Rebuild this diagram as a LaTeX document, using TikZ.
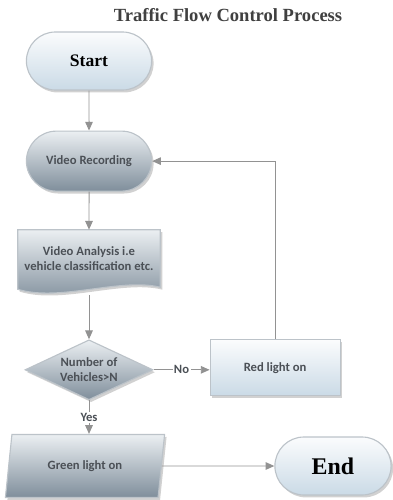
\documentclass[tikz,border=0pt]{standalone}
\usepackage{fontspec}
\setmainfont{Liberation Serif}
\newfontfamily\boxfont{Carlito}
\usetikzlibrary{arrows.meta,positioning,shapes.geometric,shapes.misc,shadows,backgrounds}

\definecolor{linegray}{HTML}{929292}
\definecolor{edgegray}{HTML}{BCC3C9}
\definecolor{textgray}{HTML}{4B5056}
\definecolor{lighttop}{HTML}{FBFCFD}
\definecolor{lightbot}{HTML}{CADAE6}
\definecolor{darktop}{HTML}{EBEFF2}
\definecolor{darkbot}{HTML}{7F8E9B}

\begin{document}
\begin{tikzpicture}[node distance=10mm and 14mm,
  base/.style={draw=edgegray, line width=0.8pt, align=center, inner sep=1pt,
    drop shadow={shadow xshift=0.5mm, shadow yshift=-0.6mm, fill=black!40, opacity=.45}},
  light/.style={base, top color=lighttop, bottom color=lightbot},
  dark/.style={base, top color=darktop, bottom color=darkbot},
  boxtext/.style={font=\boxfont\bfseries\fontsize{9}{10.5}\selectfont, text=textgray},
  terminal/.style={light, rounded rectangle, minimum width=32mm, minimum height=14.5mm},
  process/.style={dark, rounded rectangle, minimum width=32mm, minimum height=15mm, boxtext},
  decision/.style={dark, diamond, aspect=2.1, minimum width=32mm, minimum height=15mm, inner sep=0pt, boxtext},
  io/.style={dark, trapezium, trapezium left angle=76, trapezium right angle=104, trapezium stretches=true, minimum width=40mm, minimum height=15.75mm, boxtext},
  action/.style={light, rectangle, minimum width=32.5mm, minimum height=14mm, boxtext},
  arr/.style={-{Triangle[length=2.2mm, width=1.9mm]}, draw=linegray, line width=0.7pt},
  lbl/.style={fill=white, inner sep=1pt, boxtext}]
\useasboundingbox (0,0) rectangle (98mm,-125mm);
\node[font=\bfseries\fontsize{13.2}{15}\selectfont, text=black!75] (title) at (57mm,-3.75mm) {Traffic Flow Control Process};
\node[terminal, font=\bfseries\fontsize{12.5}{14}\selectfont] (start) at (22.25mm,-15.25mm) {Start};
\node[process, below=of start] (rec) {Video Recording};
\node[align=center, minimum width=35.5mm, minimum height=14.25mm, inner sep=1pt, boxtext, below=9.5mm of rec] (analysis) {Video Analysis i.e\\vehicle classification etc.};
\node[decision, below=13mm of analysis] (check) {Number of\\Vehicles>N};
\node[action, right=of check, yshift=0.5mm] (red) {Red light on};
\node[io] (green) at (21.25mm,-116.5mm) {Green light on};
\node[terminal, minimum width=29.75mm, font=\bfseries\fontsize{17}{19}\selectfont] (stop) at (83.25mm,-116.5mm) {End};
% document outline behind the analysis text
\begin{scope}[on background layer]
\path[dark] (analysis.north west) -- (analysis.north east) -- (analysis.south east)
  .. controls +(-10mm,2.5mm) and +(10.5mm,-3.25mm) .. ([yshift=-0.5mm]analysis.south west) -- cycle;
\end{scope}
\draw[arr] (start) -- (rec);
\draw[arr] (rec) -- (analysis);
\draw[arr] ([yshift=-2mm]analysis.south) -- (check);
\draw[arr] (check) -- node[lbl] {No} (red.west |- check);
\draw[arr] (check) -- node[lbl] {Yes} (green.north -| check);
\draw[arr] (red.north) |- (rec.east);
\draw[arr] (green) -- (stop);
\end{tikzpicture}
\end{document}
